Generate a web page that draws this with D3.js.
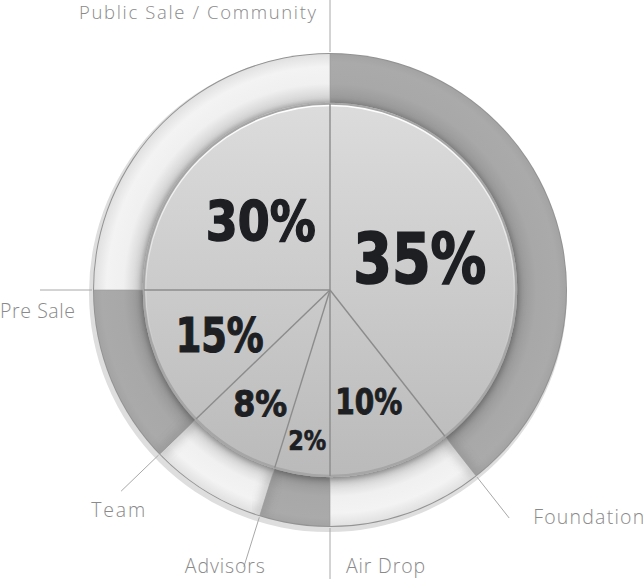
<!DOCTYPE html>
<html><head><meta charset="utf-8">
<script src="https://cdn.jsdelivr.net/npm/d3@7/dist/d3.min.js"></script>
<style>
html,body{margin:0;padding:0;background:#fff;}
svg{display:block;}
</style></head>
<body>
<svg id="chart" width="643" height="579"></svg>
<script>
// ---- data ----
const categories = ["Foundation", "Air Drop", "Advisors", "Team", "Pre Sale", "Public Sale / Community"];
const percentLabels = ["35%", "10%", "2%", "8%", "15%", "30%"];
const percentValues = [35, 10, 2, 8, 15, 30];
// angular share of each slice as actually drawn in the picture (percent of circle)
const drawnShare = [39.4, 10.6, 4.8, 8.0, 12.2, 25.0];
const ringTone = ["dark", "light", "dark", "light", "dark", "light"];

// ---- layout ----
const svg = d3.select("#chart");
const cx = 330, cy = 290;
const rPie = 187, rRing = 236, rLeadIn = 238, rLeadOut = 290;
const defs = svg.append("defs");

const pie = d3.pie().sort(null).value(d => d)(drawnShare);

// gradients
const pieGrad = defs.append("linearGradient").attr("id", "pieGrad")
  .attr("x1", 0).attr("y1", 0).attr("x2", 0).attr("y2", 1);
pieGrad.append("stop").attr("offset", "0%").attr("stop-color", "#dcdcdc");
pieGrad.append("stop").attr("offset", "100%").attr("stop-color", "#bababa");

function radial(id, stops) {
  const gr = defs.append("radialGradient").attr("id", id)
    .attr("gradientUnits", "userSpaceOnUse")
    .attr("cx", 0).attr("cy", 0).attr("r", 240);
  stops.forEach(s => gr.append("stop").attr("offset", s[0]).attr("stop-color", s[1]));
}
radial("ringDark", [[0.77, "#8c8c8c"], [0.80, "#9a9a9a"], [0.86, "#a8a8a8"], [0.95, "#aaaaaa"], [0.985, "#a3a3a3"]]);
radial("ringLight", [[0.77, "#b4b4b4"], [0.80, "#d4d4d4"], [0.86, "#f0f0f0"], [0.93, "#f3f3f3"], [0.985, "#e0e0e0"]]);

const hl = defs.append("linearGradient").attr("id", "hl")
  .attr("x1", 0).attr("y1", 0).attr("x2", 0).attr("y2", 1);
hl.append("stop").attr("offset", "0%").attr("stop-color", "#ffffff").attr("stop-opacity", 1);
hl.append("stop").attr("offset", "45%").attr("stop-color", "#ffffff").attr("stop-opacity", 0.4);
hl.append("stop").attr("offset", "70%").attr("stop-color", "#ffffff").attr("stop-opacity", 0);

const shadow = defs.append("filter").attr("id", "shadow")
  .attr("x", "-20%").attr("y", "-20%").attr("width", "140%").attr("height", "140%");
shadow.append("feDropShadow").attr("dx", 0).attr("dy", 2).attr("stdDeviation", 4)
  .attr("flood-color", "#000").attr("flood-opacity", 0.35);

const blur = defs.append("filter").attr("id", "blur")
  .attr("x", "-50%").attr("y", "-50%").attr("width", "200%").attr("height", "200%");
blur.append("feGaussianBlur").attr("stdDeviation", 4);

defs.append("clipPath").attr("id", "ringClip").append("path")
  .attr("transform", `translate(${cx},${cy})`)
  .attr("d", d3.arc().innerRadius(rPie).outerRadius(rRing)({startAngle: 0, endAngle: 2 * Math.PI}));

const g = svg.append("g").attr("transform", `translate(${cx},${cy})`);

// outer halo and rim
g.append("circle").attr("cx", -2).attr("cy", 3).attr("r", rRing + 3).attr("fill", "#dedede");
g.append("circle").attr("r", rRing + 1).attr("fill", "#939393");

// ring segments
const ringArc = d3.arc().innerRadius(rPie - 2).outerRadius(rRing);
g.selectAll("path.ring").data(pie).join("path").attr("class", "ring")
  .attr("d", ringArc)
  .attr("fill", (d, i) => ringTone[i] === "dark" ? "url(#ringDark)" : "url(#ringLight)");

// soft shading at ring boundaries
const pt = (a, r) => [r * Math.sin(a), -r * Math.cos(a)];
const shade = svg.append("g").attr("clip-path", "url(#ringClip)")
  .append("g").attr("transform", `translate(${cx},${cy})`);
pie.forEach(d => {
  const a = d.startAngle;
  const p1 = pt(a, rPie), p2 = pt(a, rRing);
  shade.append("line").attr("x1", p1[0]).attr("y1", p1[1]).attr("x2", p2[0]).attr("y2", p2[1])
    .attr("stroke", "#777").attr("stroke-width", 10).attr("opacity", 0.3).attr("filter", "url(#blur)");
  shade.append("line").attr("x1", p1[0]).attr("y1", p1[1]).attr("x2", p2[0]).attr("y2", p2[1])
    .attr("stroke", "#999").attr("stroke-width", 1).attr("opacity", 0.6);
});

// leader lines
pie.forEach(d => {
  const a = d.endAngle;
  const p1 = pt(a, rLeadIn), p2 = pt(a, rLeadOut);
  g.append("line").attr("x1", p1[0]).attr("y1", p1[1]).attr("x2", p2[0]).attr("y2", p2[1])
    .attr("stroke", "#a8a8a8").attr("stroke-width", 1);
});

// inner pie
const pieG = g.append("g").attr("filter", "url(#shadow)");
pieG.append("circle").attr("r", rPie).attr("fill", "url(#pieGrad)");
pieG.append("circle").attr("r", rPie - 1).attr("fill", "none").attr("stroke", "#a6a6a6").attr("stroke-width", 2.5);
g.append("circle").attr("r", rPie - 2.5).attr("fill", "none").attr("stroke", "url(#hl)").attr("stroke-width", 1.5);

// slice separators
pie.forEach(d => {
  const p = pt(d.startAngle, rPie - 1);
  g.append("line").attr("x1", 0).attr("y1", 0).attr("x2", p[0]).attr("y2", p[1])
    .attr("stroke", "#8c8c8c").attr("stroke-width", 1.4);
});

// percentage labels
const labelRadius = [95, 118.5, 152, 133, 119, 98];
const labelSize = [69, 35, 27, 36, 48, 55];
const labelWidth = [133, 67, 38, 54, 88, 110];
pie.forEach((d, i) => {
  const mid = (d.startAngle + d.endAngle) / 2;
  const p = pt(mid, labelRadius[i]);
  g.append("text").text(percentLabels[i])
    .attr("x", p[0]).attr("y", p[1])
    .attr("text-anchor", "middle").attr("dominant-baseline", "central")
    .attr("font-family", "'DejaVu Sans Condensed', 'DejaVu Sans', sans-serif")
    .attr("font-weight", 700).attr("font-size", labelSize[i])
    .attr("textLength", labelWidth[i]).attr("lengthAdjust", "spacingAndGlyphs")
    .attr("fill", "#1d1f23").attr("stroke", "#1d1f23").attr("stroke-width", labelSize[i] / 40)
    .attr("stroke-linejoin", "miter");
});

// category labels placed off the leader ends
const labelPlace = {
  "Foundation": {dx: 24, dy: 6, anchor: "start"},
  "Air Drop": {dx: 16, dy: -7, anchor: "start"},
  "Advisors": {dx: -19, dy: 6, anchor: "middle"},
  "Team": {dx: -3, dy: 26, anchor: "middle"},
  "Pre Sale": {dx: -40, dy: 28, anchor: "start"},
  "Public Sale / Community": {dx: -14, dy: 19, anchor: "end"}
};
const catWidth = {"Foundation": 111, "Air Drop": 79, "Advisors": 80, "Team": 54, "Pre Sale": 75, "Public Sale / Community": 237};
pie.forEach((d, i) => {
  const p = pt(d.endAngle, rLeadOut);
  const L = labelPlace[categories[i]];
  g.append("text").text(categories[i])
    .attr("x", p[0] + L.dx).attr("y", p[1] + L.dy)
    .attr("text-anchor", L.anchor)
    .attr("font-family", "'Open Sans', 'Noto Sans', sans-serif")
    .attr("font-weight", 300).attr("font-size", categories[i].length > 12 ? 18.5 : 19.5)
    .attr("textLength", catWidth[categories[i]]).attr("lengthAdjust", "spacing")
    .attr("fill", "#8a8a8a");
});
</script>
</body></html>
